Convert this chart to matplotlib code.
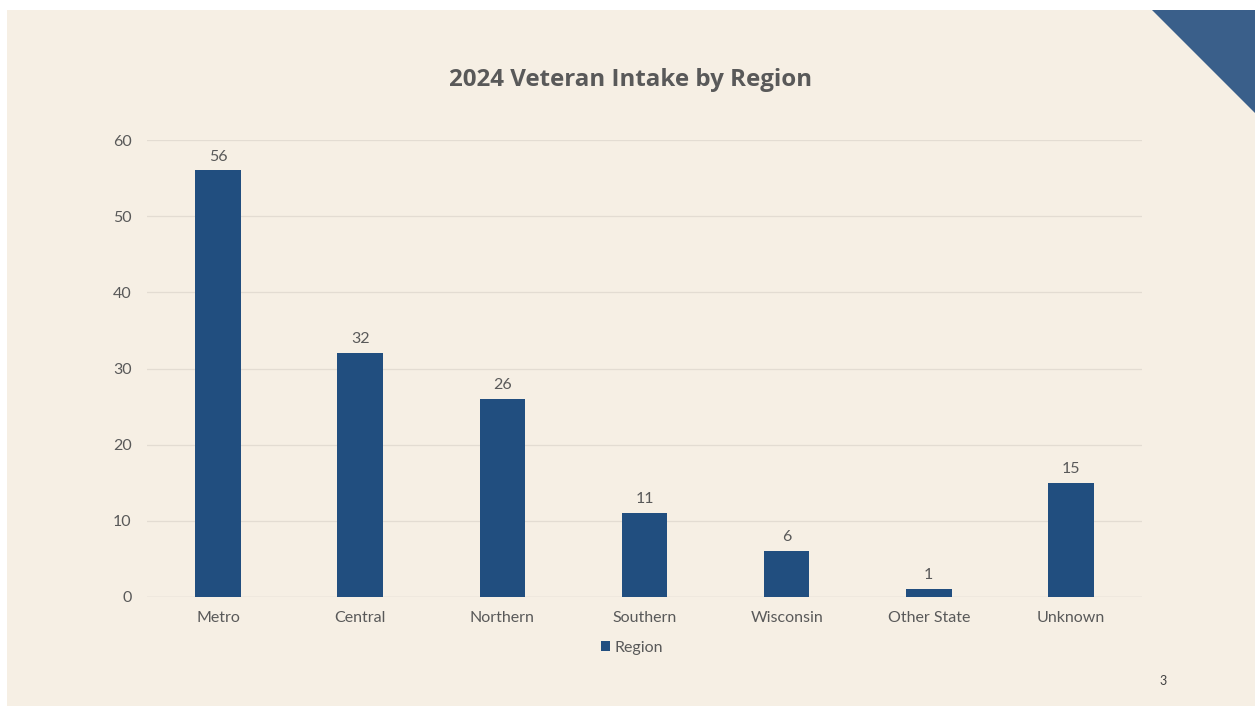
import matplotlib.pyplot as plt
import numpy as np
from matplotlib.patches import Rectangle, Polygon

# Chart data
regions = ["Metro", "Central", "Northern", "Southern", "Wisconsin", "Other State", "Unknown"]
intake = [56, 32, 26, 11, 6, 1, 15]
y_ticks = [0, 10, 20, 30, 40, 50, 60]

# Colours
slide_bg = "#F6EFE4"
bar_color = "#214E7F"
corner_color = "#3A5F8A"
text_color = "#595959"
grid_color = "#E3DCD2"

plt.rcParams['font.family'] = ['Lato', 'DejaVu Sans']

W, H = 1255, 707
fig = plt.figure(figsize=(W / 100, H / 100), dpi=100, facecolor="white")

# Slide background (white margin on left and top)
fig.patches.append(Rectangle((7 / W, 1 - 706 / H), 1 - 7 / W, (706 - 10) / H,
                             transform=fig.transFigure, facecolor=slide_bg,
                             edgecolor="none", zorder=-10))
# Corner triangle top right
fig.patches.append(Polygon([(1152 / W, 1 - 10 / H), (1.0, 1 - 10 / H), (1.0, 1 - 113 / H)],
                           closed=True, transform=fig.transFigure,
                           facecolor=corner_color, edgecolor="none", zorder=-9))

ax = fig.add_axes([147 / W, 1 - 597 / H, (1142 - 147) / W, (597 - 140) / H])
ax.set_facecolor("none")

x = np.arange(len(regions))
bars = ax.bar(x, intake, width=0.32, color=bar_color, zorder=3, label="Region")

for xi, v in zip(x, intake):
    ax.annotate(str(v), (xi, v), xytext=(0, 5), textcoords="offset points",
                ha="center", va="bottom", fontsize=11.5, color=text_color)

ax.set_xlim(-0.5, len(regions) - 0.5)
ax.set_ylim(0, 60)
ax.set_yticks(y_ticks)
ax.set_xticks(x)
ax.set_xticklabels(regions)
ax.tick_params(axis="both", length=0, labelsize=11.5, labelcolor=text_color)
ax.tick_params(axis="y", pad=11)
ax.tick_params(axis="x", pad=10)
ax.grid(axis="y", color=grid_color, linewidth=0.9, zorder=0)
for s in ax.spines.values():
    s.set_visible(False)
ax.axhline(0, color=grid_color, linewidth=1.0, zorder=2)

fig.text(631 / W, 1 - 80 / H, "2024 Veteran Intake by Region", ha="center", va="center",
         fontsize=17.4, fontweight="bold", color=text_color,
         family=["Open Sans", "DejaVu Sans"])

leg = fig.legend(handles=[bars], labels=["Region"], loc="center",
                 bbox_to_anchor=(632 / W, 1 - 648 / H), frameon=False,
                 fontsize=11.5, handlelength=0.6, handleheight=0.6, handletextpad=0.3)
for t in leg.get_texts():
    t.set_color(text_color)

fig.text(1163 / W, 1 - 681 / H, "3", ha="center", va="center", fontsize=9, color="#404040")

fig.savefig("out.png", dpi=100, facecolor=fig.get_facecolor())
